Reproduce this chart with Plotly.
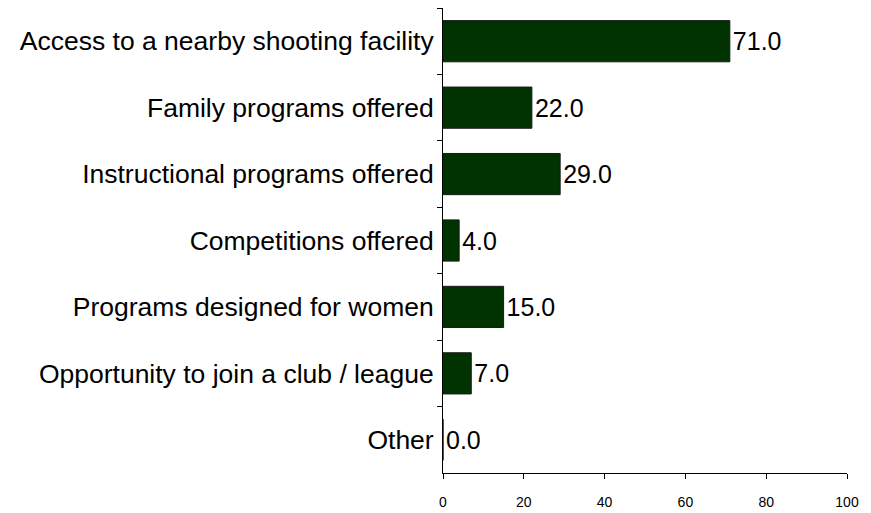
import plotly.graph_objects as go

categories = [
    "Access to a nearby shooting facility",
    "Family programs offered",
    "Instructional programs offered",
    "Competitions offered",
    "Programs designed for women",
    "Opportunity to join a club / league",
    "Other",
]
values = [71.0, 22.0, 29.0, 4.0, 15.0, 7.0, 0.0]
x_ticks = [0, 20, 40, 60, 80, 100]

fig = go.Figure(go.Bar(
    x=values,
    y=categories,
    orientation="h",
    marker=dict(color="#003300", line=dict(color="#1a1a1a", width=1)),
    text=[f"{v:.1f}" for v in values],
    textposition="outside",
    constraintext="none",
    cliponaxis=False,
    textfont=dict(family="Liberation Sans, Arial, sans-serif", size=25, color="#000000"),
    width=0.62,
))

fig.update_layout(
    width=863, height=505,
    margin=dict(l=435, r=24, t=0, b=40, pad=0),
    paper_bgcolor="white", plot_bgcolor="white",
    showlegend=False,
    font=dict(family="Liberation Sans, Arial, sans-serif", color="#000000"),
)
fig.update_xaxes(
    range=[0, 100], tickvals=x_ticks, ticktext=[str(t) for t in x_ticks],
    showgrid=False, zeroline=False, showline=True, linecolor="#000000", linewidth=1,
    ticks="outside", ticklen=5, tickcolor="#000000",
    tickfont=dict(family="Liberation Sans, Arial, sans-serif", size=14),
    ticklabelstandoff=11,
)
fig.update_yaxes(
    autorange="reversed", categoryorder="array", categoryarray=categories,
    showgrid=False, zeroline=False, showline=True, linecolor="#000000", linewidth=1,
    ticks="outside", ticklen=5, tickcolor="#000000", tickson="boundaries",
    tickfont=dict(family="Liberation Sans, Arial, sans-serif", size=26.5),
    ticklabelstandoff=3,
)
fig.write_html("out.html")
